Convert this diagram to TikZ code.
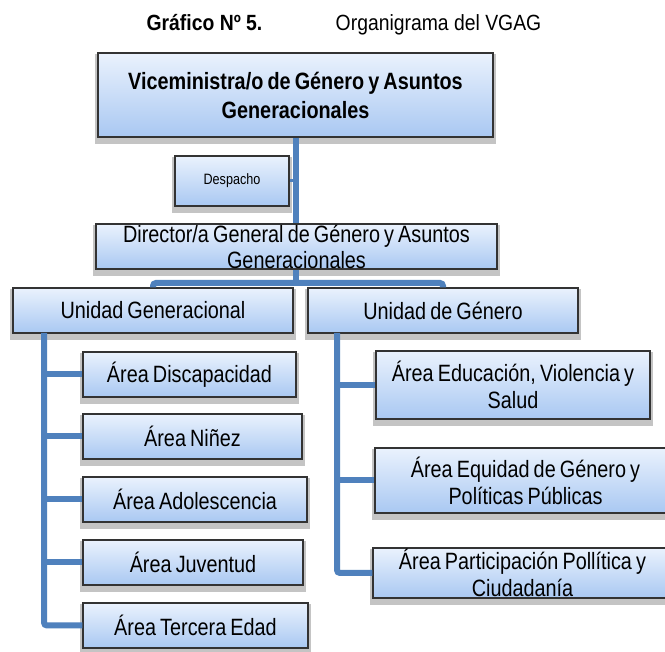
\documentclass[tikz,border=0pt]{standalone}
\usepackage{fontspec}
\setmainfont{Liberation Sans}[FakeStretch=0.84, WordSpace=0.75]
\newfontfamily\titlefont{Liberation Sans}[FakeStretch=0.88]
\usetikzlibrary{backgrounds}
\definecolor{conncol}{HTML}{4F81BD}
\definecolor{boxtop}{HTML}{EAF2FD}
\definecolor{boxbot}{HTML}{A9C8F2}
\definecolor{shadowcol}{HTML}{C4C4C4}
\tikzset{
  orgbox/.style={rectangle, inner sep=0pt, draw=black!80, line width=1.2pt,
    top color=boxtop, bottom color=boxbot,
    preaction={fill=shadowcol, draw=shadowcol, line width=6pt, transform canvas={yshift=-4pt}}},
  conn/.style={draw=conncol, line width=6pt, rounded corners=3pt},
  lbl/.style={align=center, inner sep=0pt, font=\fontsize{23.6}{27}\selectfont},
}
\begin{document}
\begin{tikzpicture}[x=1pt,y=-1pt]
\useasboundingbox (0,0) rectangle (665,652);
\fill[white] (0,0) rectangle (665,652);
\clip (0,0) rectangle (665,652);

% title
\node[anchor=base, inner sep=0pt, font=\fontsize{22}{26}\titlefont\bfseries] (tA) at (204.5,31) {Gráfico Nº 5.};
\node[anchor=base, inner sep=0pt, font=\fontsize{22}{26}\titlefont] (tB) at (438.5,31) {Organigrama del VGAG};

% boxes
\node[orgbox, minimum width=395pt, minimum height=84pt] (vm) at (295.5,95) {};
\node[orgbox, minimum width=114pt, minimum height=50pt] (desp) at (232,181) {};
\node[orgbox, minimum width=401pt, minimum height=45pt] (dir) at (296.5,246.5) {};
\node[orgbox, minimum width=280pt, minimum height=45pt] (ug) at (153,310.5) {};
\node[orgbox, minimum width=270pt, minimum height=45pt] (ugen) at (443,310.5) {};
\node[orgbox, minimum width=213pt, minimum height=45pt] (a1) at (189.5,374.5) {};
\node[orgbox, minimum width=219pt, minimum height=45pt] (a2) at (192.5,436.5) {};
\node[orgbox, minimum width=224pt, minimum height=45pt] (a3) at (195,499.5) {};
\node[orgbox, minimum width=220pt, minimum height=45pt] (a4) at (193,562.5) {};
\node[orgbox, minimum width=225pt, minimum height=45pt] (a5) at (195.5,625.5) {};
\node[orgbox, minimum width=274pt, minimum height=68pt] (b1) at (513,385) {};
\node[orgbox, minimum width=301pt, minimum height=65pt] (b2) at (525.5,480.5) {};
\node[orgbox, minimum width=299pt, minimum height=50pt] (b3) at (522.5,573) {};

% texts
\node[lbl, font=\fontsize{23.6}{29}\selectfont\bfseries] (vmt) at (vm.center) {Viceministra/o de Género y Asuntos\\Generacionales};
\node[lbl, font=\fontsize{15}{17}\selectfont] (despt) at (desp.center) {Despacho};
\node[lbl, font=\fontsize{23.6}{26}\selectfont] (dirt) at (dir.center) {Director/a General de Género y Asuntos\\Generacionales};
\node[lbl] (ugt) at (ug.center) {Unidad Generacional};
\node[lbl] (ugent) at (ugen.center) {Unidad de Género};
\node[lbl] (a1t) at (a1.center) {Área Discapacidad};
\node[lbl] (a2t) at (a2.center) {Área Niñez};
\node[lbl] (a3t) at (a3.center) {Área Adolescencia};
\node[lbl] (a4t) at (a4.center) {Área Juventud};
\node[lbl] (a5t) at (a5.center) {Área Tercera Edad};
\node[lbl] (b1t) at (b1.center) {Área Educación, Violencia y\\Salud};
\node[lbl] (b2t) at (b2.center) {Área Equidad de Género y\\Políticas Públicas};
\node[lbl] (b3t) at (b3.center) {Área Participación Pollítica y\\Ciudadanía};

% connectors
\coordinate (bar) at (296,283);
\coordinate (ls) at (44,333);
\coordinate (rs) at (337,333);
\draw[conn] (vm.south) -- (vm.south |- dir.north);
\draw[conn, line width=3pt] (desp.east) -- (desp.east -| vm.south);
\draw[conn] (dir.south -| bar) -- (bar);
\draw[conn] (ug.north) -- (ug.north |- bar) -- (ugen.north |- bar) -- (ugen.north);
\draw[conn] (ls) |- (a5.west);
\foreach \n in {a1,a2,a3,a4}{\draw[conn] (ls |- \n.west) -- (\n.west);}
\draw[conn] (rs) |- (b3.west);
\foreach \n in {b1,b2}{\draw[conn] (rs |- \n.west) -- (\n.west);}
\end{tikzpicture}
\end{document}
